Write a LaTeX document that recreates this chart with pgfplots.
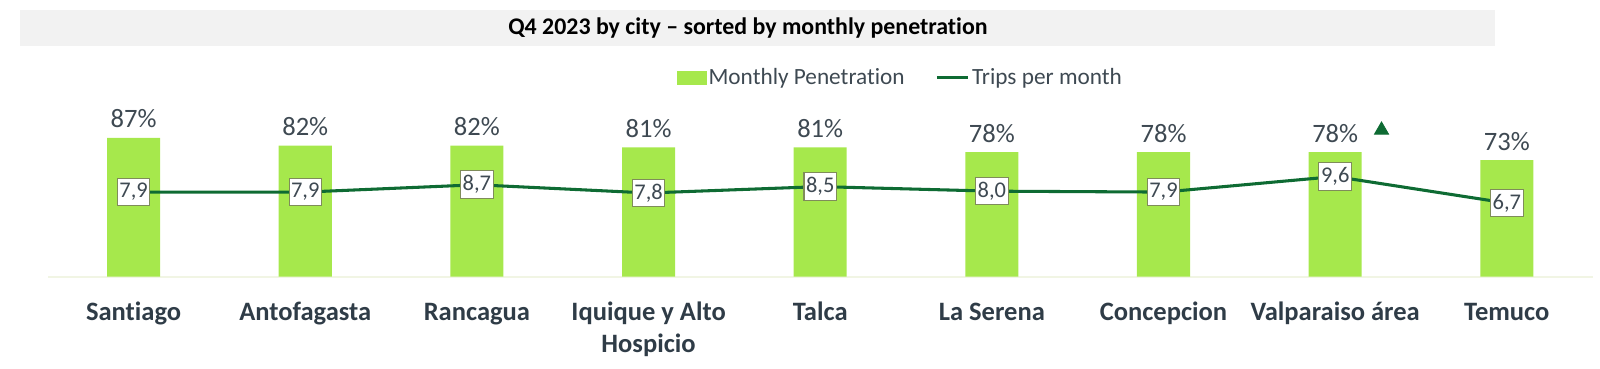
\documentclass[border=0pt]{standalone}
\usepackage{pgfplots}
\pgfplotsset{compat=1.18}
\usepackage{pgfplotstable}
\usepackage{fontspec}
\setmainfont[Ligatures={NoCommon}]{Carlito}
\definecolor{barG}{HTML}{A6E84C}
\definecolor{lineG}{HTML}{0E6B33}
\definecolor{textC}{HTML}{3E4952}
\definecolor{catC}{HTML}{2F3C47}
\definecolor{boxC}{HTML}{7F8C5A}
\definecolor{baseC}{HTML}{F1F5E4}
\definecolor{titleBg}{HTML}{F2F2F2}
\newcommand\st{\rule{0pt}{10.5pt}}

\pgfplotstableread{
x pen
0 87
1 82
2 82
3 81
4 81
5 78
6 78
7 78
8 73
}\pendata

\pgfplotstableread{
x y lab
0 7.9 7,9
1 7.9 7,9
2 8.7 8,7
3 7.8 7,8
4 8.5 8,5
5 8.0 8,0
6 7.9 7,9
7 9.6 9,6
8 6.7 6,7
}\tripdata

\begin{document}
\begin{tikzpicture}
\useasboundingbox (0,0) rectangle (784pt,180.5pt);
\fill[titleBg] (10pt,158pt) rectangle (732.5pt,175.5pt);
\node[font=\bfseries\fontsize{11.7}{13}\selectfont, text=black] at (366.5pt,166.75pt) {Q4 2023 by city – sorted by monthly penetration};

\begin{axis}[
  at={(23.4pt,45pt)}, anchor=south west, scale only axis,
  width=757pt, height=85.5pt,
  xmin=-0.5, xmax=8.5, ymin=0, ymax=109.4,
  axis y line=none, axis x line*=bottom,
  x axis line style={draw=baseC, line width=1pt, -},
  xtick={0,...,8},
  xticklabels={{\st Santiago},{\st Antofagasta},{\st Rancagua},{\st Iquique y Alto\\Hospicio},{\st Talca},{\st La Serena},{\st Concepcion},{\st Valparaiso área},{\st Temuco}},
  major tick length=0pt,
  xticklabel style={font=\bfseries\fontsize{13}{15.5}\selectfont, text=catC, align=center, yshift=-7.5pt},
  clip=false,
]
\addplot[ybar, bar width=26pt, fill=barG, draw=none,
  nodes near coords={\pgfmathprintnumber[assume math mode=true,fixed,precision=0]{\pgfplotspointmeta}\%},
  point meta=y,
  every node near coord/.append style={anchor=south, inner sep=0pt, yshift=4.5pt, font=\fontsize{13}{15}\selectfont, text=textC}]
  table[x=x, y=pen] {\pendata};
\addplot[only marks, mark=triangle*, mark size=4pt, color=lineG, forget plot] coordinates {(7.27,91.8)};
\end{axis}

\begin{axis}[
  at={(23.4pt,45pt)}, anchor=south west, scale only axis,
  width=757pt, height=85.5pt,
  xmin=-0.5, xmax=8.5, ymin=-1.33, ymax=17.74,
  hide axis, clip=false,
  legend style={at={(0.552,1.14)}, anchor=center, draw=none, fill=none,
    font=\fontsize{11.4}{13}\selectfont, text=textC,
    /tikz/every even column/.append style={column sep=14pt},
    nodes={inner xsep=1pt}},
  legend columns=2, legend cell align=left,
]
\addlegendimage{legend image code/.code={\fill[barG] (0pt,-3.2pt) rectangle (14pt,3.2pt);}}
\addlegendentry{Monthly Penetration}
\addplot[lineG, line width=1.5pt,
  legend image code/.code={\draw[lineG, line width=1.5pt] (0pt,0pt) -- (15.5pt,0pt);},
  nodes near coords, point meta=explicit symbolic,
  every node near coord/.append style={anchor=center, draw=boxC, fill=white, line width=0.5pt,
    font=\fontsize{11}{13}\selectfont, text=textC, inner xsep=1pt, inner ysep=0pt, minimum height=13.5pt}]
  table[x=x, y=y, meta=lab] {\tripdata};
\addlegendentry{Trips per month}
\end{axis}
\end{tikzpicture}
\end{document}
